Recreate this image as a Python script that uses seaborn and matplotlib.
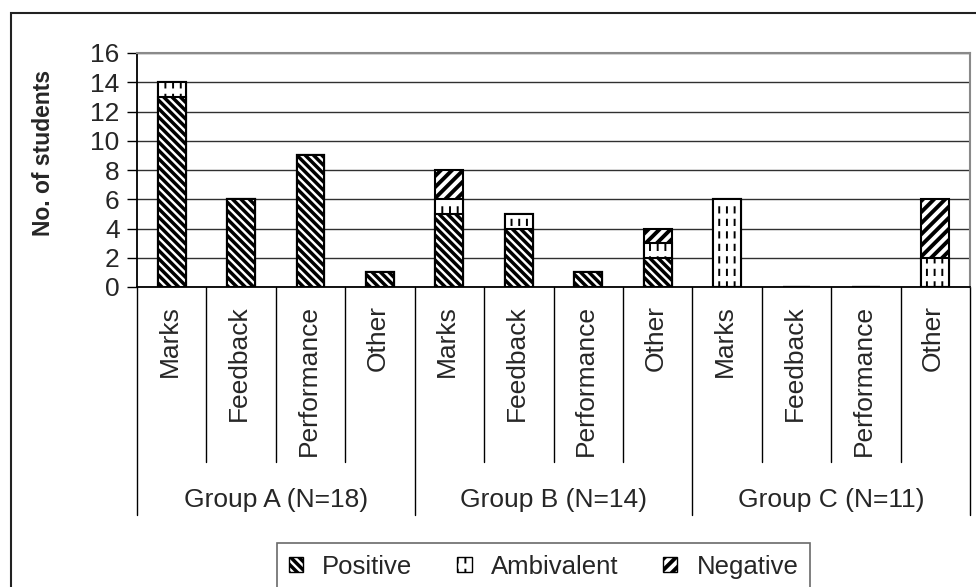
import numpy as np
import pandas as pd
import matplotlib
matplotlib.use('Agg')
import matplotlib.pyplot as plt
import matplotlib.hatch as mhatch
from matplotlib.path import Path
from matplotlib.patches import Patch, Rectangle
import seaborn as sns

# data
groups = ['Group A (N=18)', 'Group B (N=14)', 'Group C (N=11)']
aspects = ['Marks', 'Feedback', 'Performance', 'Other']
positive = [13, 6, 9, 1, 5, 4, 1, 2, 0, 0, 0, 0]
ambivalent = [1, 0, 0, 0, 1, 1, 0, 1, 6, 0, 0, 2]
negative = [0, 0, 0, 0, 2, 0, 0, 1, 0, 0, 0, 4]
legend_labels = ['Positive', 'Ambivalent', 'Negative']
yticks = [0, 2, 4, 6, 8, 10, 12, 14, 16]


# short vertical dashes for the "ambivalent" fill (replaces the plain '|' hatch)
class DashedVerticalHatch(mhatch.HatchPatternBase):
    def __init__(self, hatch, density):
        self.num_lines = 13 if hatch.count('|') else 0
        self.num_dashes = 8
        self.num_vertices = self.num_lines * self.num_dashes * 2

    def set_vertices_and_codes(self, vertices, codes):
        xs = (np.arange(self.num_lines) + 0.5) / self.num_lines
        ys = np.arange(self.num_dashes) / self.num_dashes
        gx, gy = np.meshgrid(xs, ys, indexing='ij')
        gx = gx.ravel()
        gy = gy.ravel()
        vertices[0::2, 0] = gx
        vertices[0::2, 1] = gy
        vertices[1::2, 0] = gx
        vertices[1::2, 1] = gy + 0.42 / self.num_dashes
        codes[0::2] = Path.MOVETO
        codes[1::2] = Path.LINETO


mhatch._hatch_types = [DashedVerticalHatch if t is mhatch.VerticalHatch else t
                       for t in mhatch._hatch_types]

sns.set_style('white')
plt.rcParams['font.family'] = ['Liberation Sans', 'DejaVu Sans']
plt.rcParams['hatch.linewidth'] = 2.5
plt.rcParams['hatch.color'] = 'black'

hatch_pos = '\\\\\\\\'
hatch_amb = '|'
hatch_neg = '///'
hatch_lw = {hatch_pos: 2.5, hatch_amb: 1.4, hatch_neg: 2.8}

n = len(groups) * len(aspects)
df = pd.DataFrame({
    'group': np.repeat(groups, len(aspects)),
    'aspect': aspects * len(groups),
    'Positive': positive,
    'Ambivalent': ambivalent,
    'Negative': negative,
})
df['key'] = df['group'] + ' ' + df['aspect']
df['lvl1'] = df['Positive']
df['lvl2'] = df['Positive'] + df['Ambivalent']
df['lvl3'] = df['lvl2'] + df['Negative']
order = list(df['key'])

fig = plt.figure(figsize=(9.76, 5.87), dpi=100)
ax = fig.add_axes([137 / 976, 1 - 287 / 587, 833 / 976, 234 / 587])

# stacked bars: draw the totals first, cover them with the lower parts
for col, h in [('lvl3', hatch_neg), ('lvl2', hatch_amb), ('lvl1', hatch_pos)]:
    sns.barplot(data=df, x='key', y=col, order=order, width=0.4, color='white',
                saturation=1, edgecolor='black', linewidth=1.5, hatch=h, ax=ax,
                errorbar=None)

for p in ax.patches:
    if hasattr(p, 'set_hatch_linewidth'):
        p.set_hatch_linewidth(hatch_lw.get(p.get_hatch(), 2.5))

ax.set_xlim(-0.5, n - 0.5)
ax.set_ylim(0, 16)
ax.set_yticks(yticks)
ax.set_xticks([])
ax.set_xlabel('')
ax.set_ylabel('No. of students', fontsize=16.5, fontweight='bold')
ax.yaxis.set_label_coords(-0.098, 0.573)
ax.tick_params(axis='y', left=True, length=7, width=1, direction='out',
               pad=5.5, labelsize=19, color='black')
ax.yaxis.grid(True, color='#303030', lw=1)
ax.set_axisbelow(True)
for s in ['left', 'bottom']:
    ax.spines[s].set_color('black')
    ax.spines[s].set_linewidth(1.3)
for s in ['top', 'right']:
    ax.spines[s].set_color('#8a8a8a')
    ax.spines[s].set_linewidth(1.5)

# category "table" under the axis
tr = ax.get_xaxis_transform()
for b in range(n + 1):
    low = -0.974 if b % len(aspects) == 0 else -0.748
    ax.plot([b - 0.5, b - 0.5], [0, low], transform=tr, clip_on=False,
            color='black', lw=1)
for i, a in enumerate(df['aspect']):
    ax.text(i - 0.03, -0.076, a, rotation=90, ha='center', va='top',
            transform=tr, fontsize=19)
for g, name in enumerate(groups):
    ax.text(g * len(aspects) + (len(aspects) - 1) / 2, -0.91, name,
            ha='center', va='center', transform=tr, fontsize=19)

# legend
handles = [Patch(facecolor='white', edgecolor='black', lw=1, hatch=h)
           for h in [hatch_pos, hatch_amb, hatch_neg]]
leg = fig.legend(handles, legend_labels, loc='upper center',
                 bbox_to_anchor=(0.557, 1 - 543 / 587), borderaxespad=0,
                 ncol=3, frameon=True, fancybox=False, framealpha=1,
                 edgecolor='#6a6a6a', fontsize=18.5, handlelength=0.55,
                 handleheight=0.55, handletextpad=0.75, columnspacing=1.75,
                 borderpad=0.45)
leg.get_frame().set_linewidth(1.2)
for h in leg.legend_handles:
    if hasattr(h, 'set_hatch_linewidth'):
        h.set_hatch_linewidth(hatch_lw.get(h.get_hatch(), 2.5))

# outer chart frame (right and bottom edges fall outside the picture)
fig.add_artist(Rectangle((11 / 976, -0.1), 1.2, 1.1 - 13 / 587,
                         transform=fig.transFigure, fill=False,
                         edgecolor='#222222', lw=1.5))

fig.savefig('out.png', dpi=100)
